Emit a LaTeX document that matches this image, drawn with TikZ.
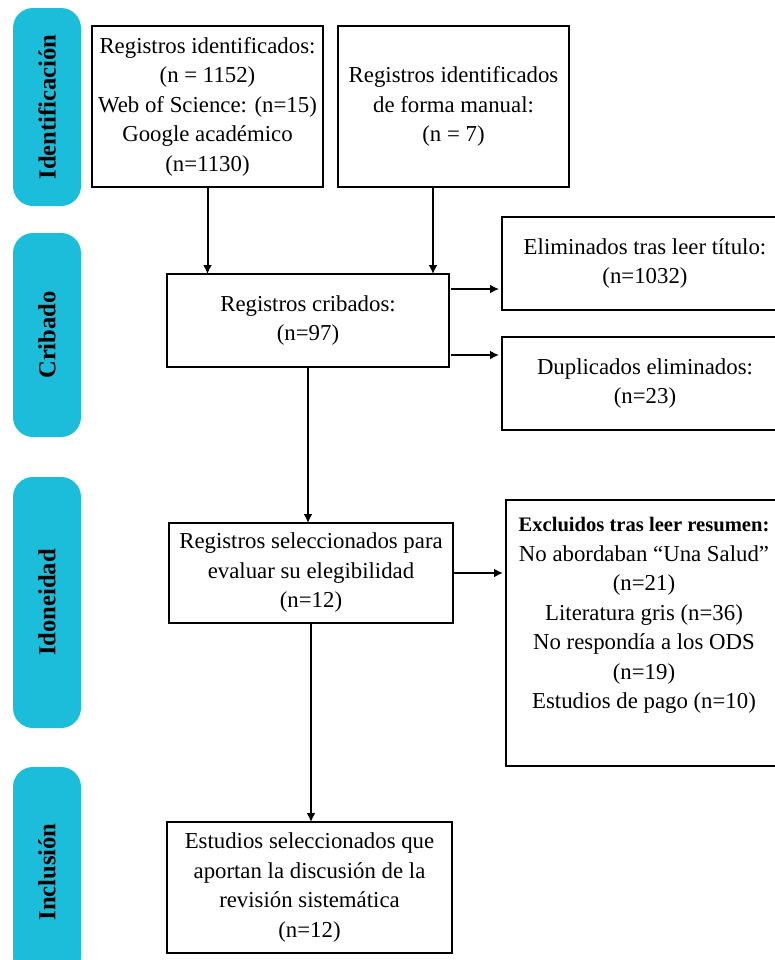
\documentclass[tikz,border=0pt]{standalone}
\usepackage{fontspec}
\setmainfont{Liberation Serif}
\usetikzlibrary{arrows.meta}
\definecolor{phasecyan}{HTML}{1BBDDB}
\begin{document}
\begin{tikzpicture}[x=0.5pt,y=-0.5pt,inner sep=0pt,outer sep=0pt,line width=1pt,
>={Latex[length=4.5pt,width=4.5pt]},
flowbox/.style={draw,rectangle,align=center,font=\fontsize{11.4}{14.75}\selectfont},
phase/.style={fill=phasecyan,rounded corners=10pt,rotate=90,minimum height=34pt,font=\fontsize{12.3}{14}\selectfont\bfseries}]
\useasboundingbox (0,0) rectangle (775,960);
% fases
\draw (47,107) node[phase,minimum width=99pt] (ph1) {Identificación};
\draw (47,335) node[phase,minimum width=102pt] (ph2) {Cribado};
\draw (47,602.5) node[phase,minimum width=125.5pt] (ph3) {Idoneidad};
\draw (47,872) node[phase,minimum width=105pt] (ph4) {Inclusión};
% cajas
\draw (207.5,106.5) node[flowbox,minimum width=115.5pt,minimum height=80.5pt] (ident1) {Registros identificados:\\(n = 1152)\\Web of Science: (n=15)\\Google académico\\(n=1130)};
\draw (453.5,106.5) node[flowbox,minimum width=115.5pt,minimum height=80.5pt] (ident2) {Registros identificados\\de forma manual:\\(n = 7)};
\draw (308,320.5) node[flowbox,minimum width=141pt,minimum height=46.5pt] (crib) {Registros cribados:\\(n=97)};
\draw (645,263.5) node[flowbox,minimum width=143pt,minimum height=46.5pt] (elim) {Eliminados tras leer título:\\(n=1032)};
\draw (645,383.5) node[flowbox,minimum width=143pt,minimum height=46.5pt] (dup) {Duplicados eliminados:\\(n=23)};
\draw (311,573) node[flowbox,minimum width=142pt,minimum height=50pt] (sel) {Registros seleccionados para\\evaluar su elegibilidad\\(n=12)};
\draw (644,633) node[flowbox,minimum width=138pt,minimum height=133pt] (excl) {{\fontsize{10.3}{14.75}\selectfont\bfseries Excluidos tras leer resumen:}\\No abordaban “Una Salud”\\(n=21)\\Literatura gris (n=36)\\No respondía a los ODS\\(n=19)\\Estudios de pago (n=10)\\[5.25pt]~};
\draw (309.5,887.5) node[flowbox,minimum width=142.5pt,minimum height=65.5pt] (incl) {Estudios seleccionados que\\aportan la discusión de la\\revisión sistemática\\(n=12)};
% flechas
\draw[->] (ident1.south) -- (ident1.south |- crib.north);
\draw[->] ([xshift=-10.25pt]ident2.south) -- ([xshift=-10.25pt]ident2.south |- crib.north);
\draw[->] ([xshift=1pt,yshift=15.75pt]crib.east) -- ([xshift=-1.5pt,yshift=15.75pt]crib.east -| elim.west);
\draw[->] ([xshift=1pt,yshift=-17.25pt]crib.east) -- ([xshift=-1.5pt,yshift=-17.25pt]crib.east -| dup.west);
\draw[->] (crib.south) -- (crib.south |- sel.north);
\draw[->] (sel.east) -- ([xshift=-1.5pt]sel.east -| excl.west);
\draw[->] (sel.south) -- (sel.south |- incl.north);
\end{tikzpicture}
\end{document}
